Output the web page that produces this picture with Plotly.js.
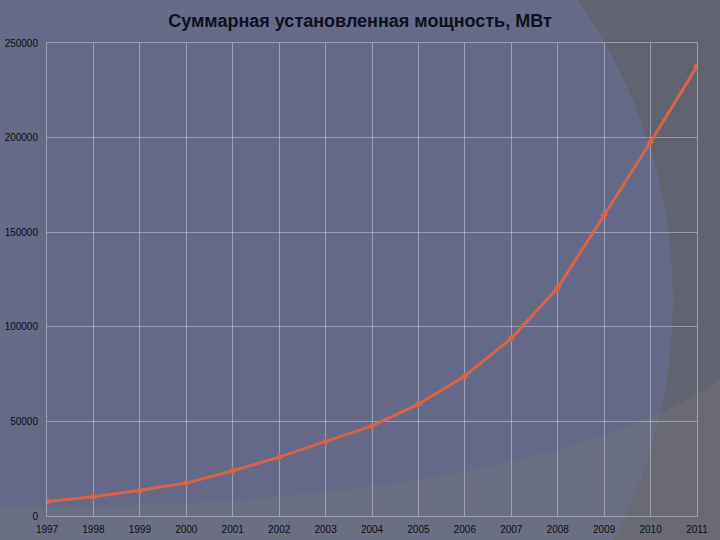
<!DOCTYPE html>
<html>
<head>
<meta charset="utf-8">
<script src="https://cdn.plot.ly/plotly-3.0.1.min.js"></script>
<style>html,body{margin:0;padding:0;background:#616371;}#chart{width:720px;height:540px;}</style>
</head>
<body>
<div id="chart"></div>
<script>
const years = [1997, 1998, 1999, 2000, 2001, 2002, 2003, 2004, 2005, 2006, 2007, 2008, 2009, 2010, 2011];
const capacityMW = [7600, 10200, 13600, 17400, 23900, 31100, 39431, 47620, 59091, 73938, 93889, 120624, 158975, 197637, 237669];
const yTicks = [0, 50000, 100000, 150000, 200000, 250000];
const titleText = 'Суммарная установленная мощность, МВт';

// pixel -> paper helpers for decorative background
const L = 47, R = 697, T = 43, B = 516;
const px = v => (v - L) / (R - L);
const py = v => (B - v) / (B - T);

const trace = {
  x: years,
  y: capacityMW,
  type: 'scatter',
  mode: 'lines+markers',
  line: {color: '#d8644b', width: 3},
  marker: {symbol: 'diamond', size: 6, color: '#d8644b'},
  hoverinfo: 'x+y'
};

const bandPath = `M ${px(-5)} ${py(507)} C ${px(300)} ${py(510)} ${px(600)} ${py(470)} ${px(725)} ${py(375)} L ${px(725)} ${py(545)} L ${px(-5)} ${py(545)} Z`;

const layout = {
  width: 720, height: 540,
  margin: {l: L, r: 720 - R, t: T, b: 540 - B, pad: 0},
  paper_bgcolor: '#616371',
  plot_bgcolor: 'rgba(0,0,0,0)',
  showlegend: false,
  title: {
    text: titleText,
    font: {family: 'Liberation Sans, Arial, sans-serif', size: 18, color: '#0e1020', weight: 'bold'},
    x: 0.5, xanchor: 'center', y: 1 - 21 / 540, yanchor: 'middle'
  },
  xaxis: {
    type: 'linear',
    range: [1997, 2011],
    tickvals: years,
    ticktext: years.map(String),
    showgrid: true,
    gridcolor: 'rgba(200,202,215,0.55)',
    gridwidth: 1,
    zeroline: false,
    showline: true,
    linecolor: 'rgba(200,202,215,0.55)',
    mirror: true,
    ticks: '',
    ticklabelstandoff: 4,
    tickfont: {family: 'Liberation Sans, Arial, sans-serif', size: 10, color: '#0c0c14'},
    fixedrange: true
  },
  yaxis: {
    range: [0, 250000],
    tickvals: yTicks,
    ticktext: yTicks.map(String),
    showgrid: true,
    gridcolor: 'rgba(200,202,215,0.55)',
    gridwidth: 1,
    zeroline: false,
    showline: true,
    linecolor: 'rgba(200,202,215,0.55)',
    mirror: true,
    ticks: '',
    ticklabelstandoff: 6,
    tickfont: {family: 'Liberation Sans, Arial, sans-serif', size: 10, color: '#0c0c14'},
    fixedrange: true
  },
  shapes: [
    {type: 'circle', xref: 'paper', yref: 'paper', layer: 'below',
     x0: px(156 - 517), x1: px(156 + 517), y0: py(300 + 517), y1: py(300 - 517),
     fillcolor: '#646a87', line: {width: 0}},
    {type: 'path', xref: 'paper', yref: 'paper', layer: 'below',
     path: bandPath, fillcolor: 'rgba(120,120,124,0.35)', line: {width: 0}}
  ]
};

Plotly.newPlot('chart', [trace], layout, {displayModeBar: false, staticPlot: true});
</script>
</body>
</html>
